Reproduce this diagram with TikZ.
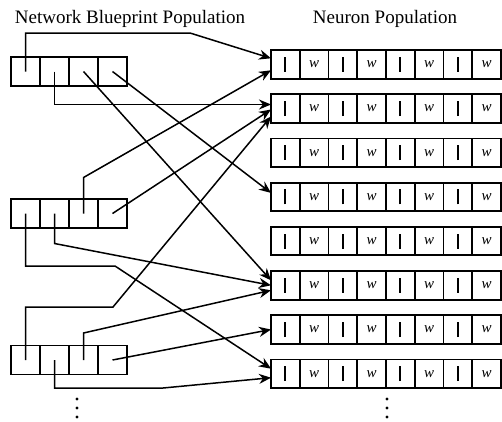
\documentclass[tikz,border=0pt]{standalone}
\usepackage{fontspec}
\setmainfont{Liberation Serif}
\usetikzlibrary{arrows.meta,calc}
\begin{document}
\begin{tikzpicture}[x=1pt,y=-1pt,
  bcell/.style={draw,line width=1.9pt,minimum width=29pt,minimum height=29pt,inner sep=0pt,outer sep=0pt},
  ncell/.style={draw,line width=1.9pt,minimum width=28.75pt,minimum height=28.5pt,inner sep=0pt,outer sep=0pt,font=\fontsize{15}{15}\selectfont},
  wire/.style={line width=1.5pt},
  arr/.style={wire,-{Stealth[length=12pt,width=10pt]}},
  title/.style={font=\fontsize{19}{21}\selectfont,anchor=base,inner sep=0pt}
]
\useasboundingbox (0,0) rectangle (502,421);
% titles
\node[title] (t1) at (130,23) {Network Blueprint Population};
\node[title] (t2) at (385,23) {Neuron Population};
% neuron rows
\foreach \k/\yc in {1/64.3,2/108.5,3/152.7,4/196.9,5/241.1,6/285.3,7/329.5,8/373.7}{
  \foreach \j in {1,...,8}{
    \node[ncell] (r\k c\j) at ({271+28.75*(\j-0.5)},\yc) {\ifodd\j \rule{1.8pt}{15pt}\else \textit{w}\fi};
  }
}
% blueprint boxes
\foreach \b/\yc in {1/71.5,2/213.5,3/360}{
  \foreach \j in {1,...,4}{
    \node[bcell] (b\b c\j) at ({11+29*(\j-0.5)},\yc) {};
  }
}
% blueprint 1
\coordinate (p11) at (25.5,33);
\coordinate (p12) at (190,33);
\draw[arr] (b1c1.center) -- (p11) -- (p12) -- ([yshift=6pt]r1c1.west);
\draw[arr] (b1c2.center) |- ([yshift=4pt]r2c1.west);
\draw[arr] (b1c3.center) -- ([yshift=5pt]r6c1.west);
\draw[arr] (b1c4.center) -- ([yshift=4pt]r4c1.west);
% blueprint 2
\coordinate (q1) at (115,266);
\draw[arr] (b2c1.center) |- (q1) -- ([yshift=5pt]r8c1.west);
\draw[arr] (b2c2.center) -- ++(0,30) -- (r6c1.west);
\draw[arr] (b2c3.center) -- ++(0,-36) -- ([yshift=-6pt]r1c1.west);
\draw[arr] (b2c4.center) -- ([yshift=-1pt]r2c1.west);
% blueprint 3
\coordinate (s1) at (113,307);
\coordinate (s2) at (163,388);
\draw[arr] (b3c1.center) |- (s1) -- ([yshift=-8pt]r2c1.west);
\draw[arr] (b3c2.center) |- (s2) -- ([yshift=-4pt]r8c1.west);
\draw[arr] (b3c3.center) -- ++(0,-27) -- ([yshift=-5pt]r6c1.west);
\draw[arr] (b3c4.center) -- (r7c1.west);
% continuation dots
\foreach \x in {77,387}{
  \foreach \y in {399,408,417}{
    \fill (\x,\y) circle (1.6);
  }
}
\end{tikzpicture}
\end{document}
